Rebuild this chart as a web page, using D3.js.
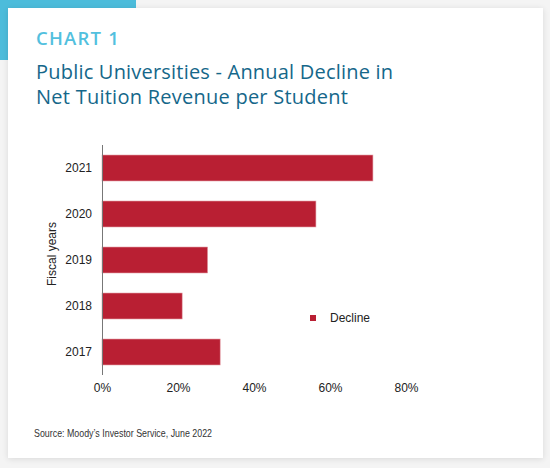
<!DOCTYPE html>
<html><head><meta charset="utf-8">
<script src="https://cdn.jsdelivr.net/npm/d3@7"></script>
<style>html,body{margin:0;padding:0;background:#f4f4f4;}svg{display:block;}</style>
</head><body>
<svg id="c" width="550" height="468"></svg>
<script>
const categories = ["2021", "2020", "2019", "2018", "2017"];
const declineValues = [71.3, 56.3, 27.8, 21.1, 31.1];
const xTicks = [0, 20, 40, 60, 80];
const seriesName = "Decline";

const svg = d3.select("#c");
const defs = svg.append("defs");
const f = defs.append("filter").attr("id","sh").attr("x","-5%").attr("y","-5%").attr("width","110%").attr("height","110%");
f.append("feGaussianBlur").attr("in","SourceAlpha").attr("stdDeviation",3);
f.append("feOffset").attr("dx",0).attr("dy",1).attr("result","b");
const fc = f.append("feComponentTransfer"); fc.append("feFuncA").attr("type","linear").attr("slope",0.12);
const fm = f.append("feMerge"); fm.append("feMergeNode"); fm.append("feMergeNode").attr("in","SourceGraphic");

svg.append("rect").attr("width",550).attr("height",468).attr("fill","#f4f4f4");
svg.append("rect").attr("x",0).attr("y",0).attr("width",136).attr("height",8).attr("fill","#4cbcdb");
svg.append("rect").attr("x",0).attr("y",0).attr("width",8).attr("height",60).attr("fill","#4cbcdb");
svg.append("rect").attr("x",8).attr("y",8).attr("width",535).attr("height",450).attr("fill","#fff").attr("filter","url(#sh)");

svg.append("text").attr("x",36).attr("y",45).text("CHART 1")
  .attr("font-family","'Open Sans', sans-serif").attr("font-size",18.5).attr("font-weight",600)
  .attr("fill","#52c0de").attr("letter-spacing",1.2);
svg.append("text").attr("x",36).attr("y",79).text("Public Universities - Annual Decline in")
  .attr("font-family","'Open Sans', sans-serif").attr("font-size",20).attr("font-weight",500).attr("fill","#15678a")
  .attr("textLength",357).attr("lengthAdjust","spacing");
svg.append("text").attr("x",36).attr("y",104).text("Net Tuition Revenue per Student")
  .attr("font-family","'Open Sans', sans-serif").attr("font-size",20).attr("font-weight",500).attr("fill","#15678a")
  .attr("textLength",312).attr("lengthAdjust","spacing");

const x = d3.scaleLinear().domain([0,80]).range([102,406]);
const y = d3.scaleBand().domain(categories).range([145,375]).paddingInner(0.435).paddingOuter(0.2175);
const font = "'Liberation Sans', Arial, sans-serif";

svg.selectAll("rect.bar").data(categories).enter().append("rect").attr("class","bar")
  .attr("x",x(0)).attr("y",d=>y(d)).attr("height",y.bandwidth())
  .attr("width",(d,i)=>x(declineValues[i])-x(0))
  .attr("fill","#b91f33").attr("stroke","#e3a0a8").attr("stroke-width",0.6);

const yAxis = svg.append("g").attr("transform",`translate(${x(0)},0)`)
  .call(d3.axisLeft(y).tickSize(0).tickPadding(10));
yAxis.select(".domain").attr("stroke","#777").attr("d","M0.5,145V375");
yAxis.selectAll("text").attr("font-family",font).attr("font-size",12).attr("fill","#222");

const xAxis = svg.append("g").attr("transform","translate(0,375)")
  .call(d3.axisBottom(x).tickValues(xTicks).tickFormat(d=>d+"%").tickSize(0).tickPadding(8));
xAxis.select(".domain").remove();
xAxis.selectAll("text").attr("font-family",font).attr("font-size",12).attr("fill","#222");

svg.append("text").attr("transform","translate(56,254) rotate(-90)").attr("text-anchor","middle")
  .attr("font-family",font).attr("font-size",12).attr("fill","#222").text("Fiscal years");

svg.append("rect").attr("x",310).attr("y",315).attr("width",6).attr("height",6).attr("fill","#b91f33");
svg.append("text").attr("x",330).attr("y",322).attr("font-family",font).attr("font-size",12).attr("fill","#222").text(seriesName);

svg.append("text").attr("x",34).attr("y",437).attr("font-family","'Liberation Sans Narrow', 'Liberation Sans', Arial, sans-serif")
  .attr("font-size",11).attr("fill","#333").attr("textLength",178).attr("lengthAdjust","spacingAndGlyphs")
  .text("Source: Moody\u2019s Investor Service, June 2022");
</script>
</body></html>
